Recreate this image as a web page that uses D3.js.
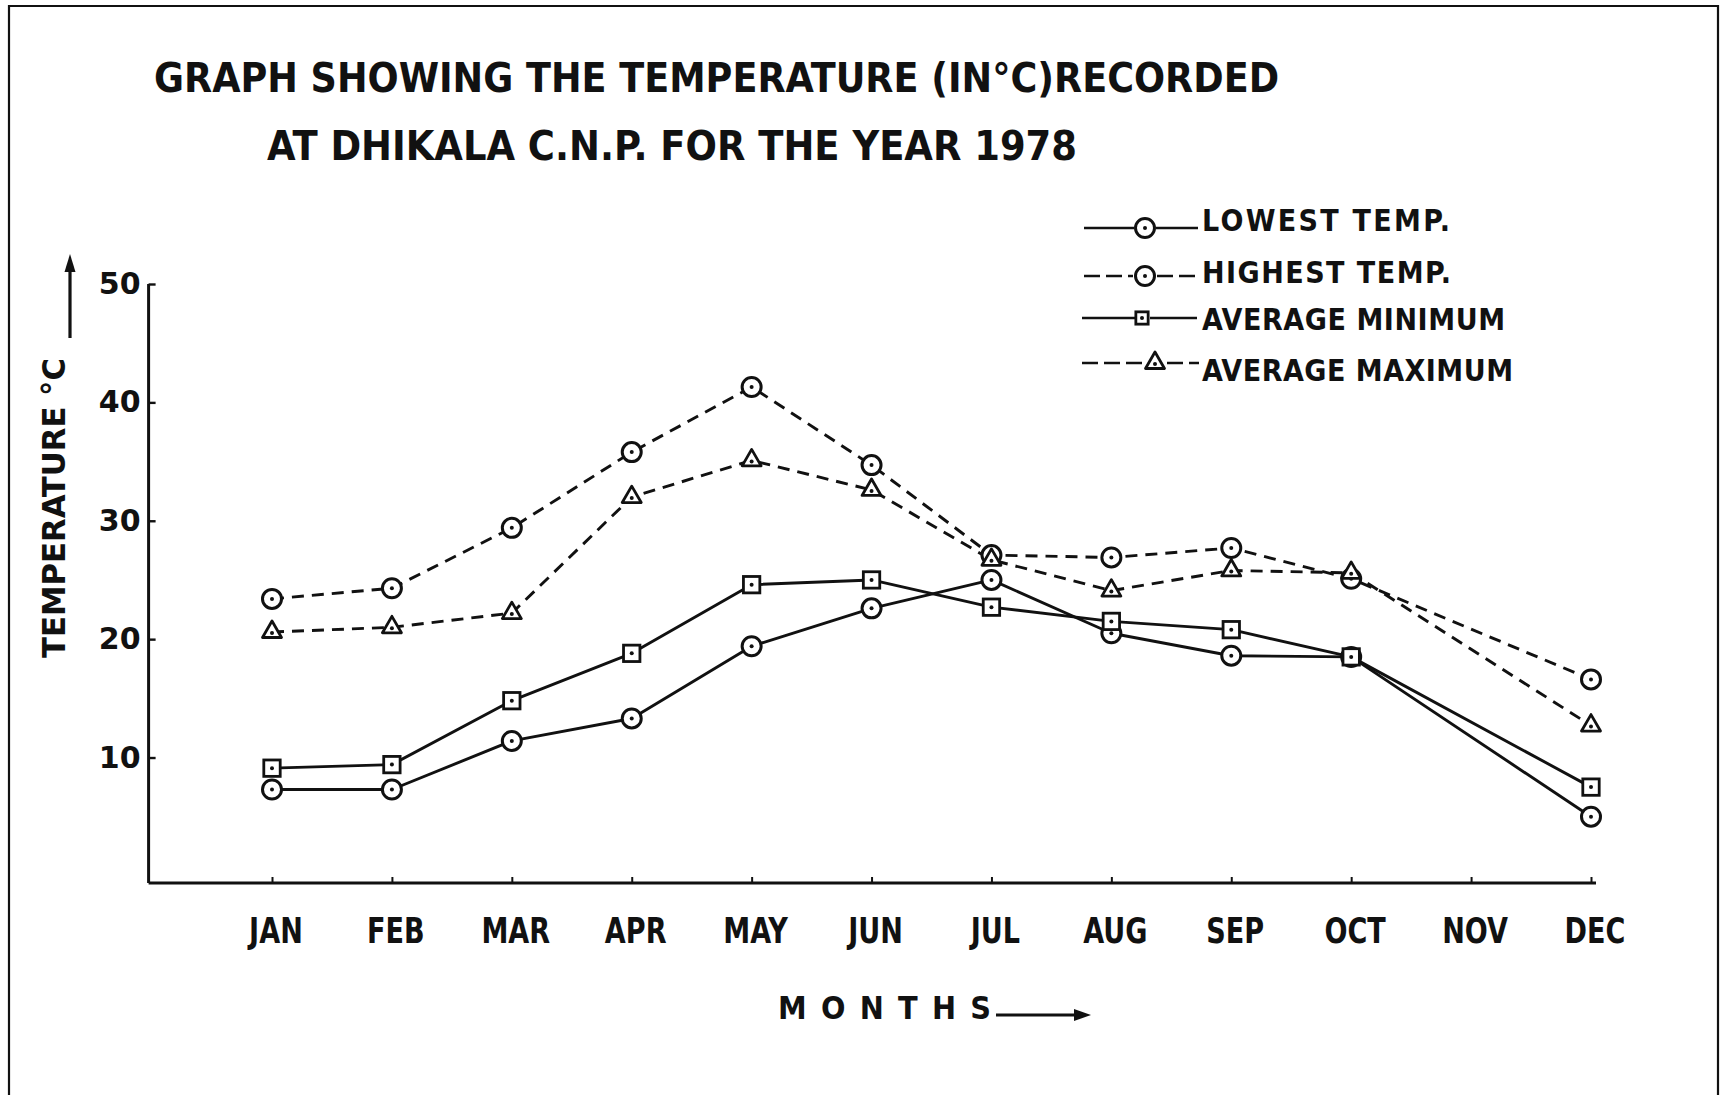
<!DOCTYPE html>
<html>
<head>
<meta charset="utf-8">
<script src="https://cdn.jsdelivr.net/npm/d3@7"></script>
<style>
html,body{margin:0;padding:0;background:#fff;}
svg{display:block;}
text{font-family:"DejaVu Sans Condensed","Liberation Sans Narrow","DejaVu Sans",sans-serif;font-weight:bold;fill:#111;}
</style>
</head>
<body>
<svg id="chart" width="1726" height="1095"></svg>
<script>
// ---------------- DATA ----------------
const months = ["JAN","FEB","MAR","APR","MAY","JUN","JUL","AUG","SEP","OCT","NOV","DEC"];
const lowestTemp     = [7.3, 7.3, 11.4, 13.3, 19.4, 22.6, 25.0, 20.5, 18.6, 18.5, null, 5.0];
const highestTemp    = [23.4, 24.3, 29.4, 35.8, 41.3, 34.7, 27.1, 26.9, 27.7, 25.1, null, 16.6];
const averageMinimum = [9.1, 9.4, 14.8, 18.8, 24.6, 25.0, 22.7, 21.5, 20.8, 18.5, null, 7.5];
const averageMaximum = [20.6, 21.0, 22.2, 32.0, 35.1, 32.6, 26.7, 24.1, 25.8, 25.6, null, 12.7];
const yTicks = [10, 20, 30, 40, 50];
const seriesNames = ["LOWEST  TEMP.", "HIGHEST  TEMP.", "AVERAGE MINIMUM", "AVERAGE MAXIMUM"];
const titleLines = ["GRAPH SHOWING THE TEMPERATURE (IN\u00B0C)RECORDED", "AT DHIKALA C.N.P. FOR THE YEAR 1978"];
const yLabel = "TEMPERATURE \u00B0C";
const xLabel = "M O N T H S";

// ---------------- LAYOUT ----------------
const svg = d3.select("#chart");
const ink = "#111";
const axisX0 = 148.6;   // y-axis position
const x = d3.scalePoint().domain(months).range([272, 1591]);
const y = d3.scaleLinear().domain([-0.6, 50]).range([883, 284]);

// frame
const frame = svg.append("g").attr("fill","none").attr("stroke",ink).attr("stroke-width",2.2);
frame.append("path").attr("d","M9,1095 L9,6 L1718,6 L1718,1095");

// title
const titleSpec = [{x:154, y:92, len:1125},{x:267, y:160, len:810}];
svg.append("g").selectAll("text").data(titleLines).join("text")
  .attr("x",(d,i)=>titleSpec[i].x).attr("y",(d,i)=>titleSpec[i].y)
  .attr("font-size",40)
  .attr("textLength",(d,i)=>titleSpec[i].len).attr("lengthAdjust","spacingAndGlyphs")
  .text(d=>d);

// axes
const xAxis = d3.axisBottom(x).tickSizeInner(-6).tickSizeOuter(0).tickPadding(0);
const gx = svg.append("g").attr("transform",`translate(0,${y(-0.6)})`).call(xAxis);
gx.select(".domain").remove();
gx.selectAll(".tick line").attr("stroke",ink).attr("stroke-width",2);
gx.selectAll(".tick text").attr("y",60).attr("dy",0).attr("x",4)
  .attr("font-size",35).attr("fill",ink)
  .attr("transform","scale(0.86,1)")
  .style("font-family",'"DejaVu Sans Condensed","Liberation Sans Narrow","DejaVu Sans",sans-serif')
  .style("font-weight","bold");
svg.append("line").attr("x1",axisX0).attr("x2",x("DEC")+5)
  .attr("y1",y(-0.6)).attr("y2",y(-0.6)).attr("stroke",ink).attr("stroke-width",3);

const yAxis = d3.axisLeft(y).tickValues(yTicks).tickSizeInner(-7).tickSizeOuter(0).tickPadding(8);
const gy = svg.append("g").attr("transform",`translate(${axisX0},0)`).call(yAxis);
gy.select(".domain").remove();
gy.selectAll(".tick line").attr("stroke",ink).attr("stroke-width",2.4);
gy.selectAll(".tick text").attr("font-size",30).attr("fill",ink)
  .style("font-family",'"DejaVu Sans","Liberation Sans",sans-serif').style("font-weight","bold");
svg.append("line").attr("x1",axisX0).attr("x2",axisX0)
  .attr("y1",y(-0.6)).attr("y2",y(50)).attr("stroke",ink).attr("stroke-width",3);

// y-axis title + arrow
svg.append("text").attr("transform","translate(65,508) rotate(-90)")
  .attr("text-anchor","middle").attr("font-size",32)
  .attr("textLength",300).attr("lengthAdjust","spacingAndGlyphs")
  .text(yLabel);
svg.append("line").attr("x1",70).attr("x2",70).attr("y1",338).attr("y2",268)
  .attr("stroke",ink).attr("stroke-width",3.2);
svg.append("path").attr("d","M70,254 L64.5,272 L75.5,272 Z").attr("fill",ink);

// x-axis title + arrow
svg.append("text").attr("x",778).attr("y",1019).attr("font-size",32)
  .attr("textLength",213).attr("lengthAdjust","spacing")
  .text(xLabel);
svg.append("line").attr("x1",996).attr("x2",1078).attr("y1",1015).attr("y2",1015)
  .attr("stroke",ink).attr("stroke-width",3);
svg.append("path").attr("d","M1091,1015 L1074,1009 L1074,1021 Z").attr("fill",ink);

// ---------------- SERIES ----------------
const series = [
  {name:seriesNames[0], values:lowestTemp,     dash:null,   marker:"circle"},
  {name:seriesNames[1], values:highestTemp,    dash:"12,8", marker:"circle"},
  {name:seriesNames[2], values:averageMinimum, dash:null,   marker:"square"},
  {name:seriesNames[3], values:averageMaximum, dash:"12,8", marker:"triangle"}
];
series.forEach(s=>{
  s.points = months.map((m,i)=>({m, v:s.values[i]})).filter(p=>p.v!==null);
});

const line = d3.line().x(p=>x(p.m)).y(p=>y(p.v));
svg.append("g").selectAll("path").data(series).join("path")
  .attr("d",s=>line(s.points))
  .attr("fill","none").attr("stroke",ink).attr("stroke-width",2.9)
  .attr("stroke-dasharray",s=>s.dash)
  .attr("stroke-linejoin","round");

function drawMarker(g, type, cx, cy, sz){
  if(type==="circle"){
    g.append("circle").attr("cx",cx).attr("cy",cy).attr("r",9.5*sz)
      .attr("fill","#fff").attr("stroke",ink).attr("stroke-width",3);
  } else if(type==="square"){
    const h = 8.2*sz;
    g.append("rect").attr("x",cx-h).attr("y",cy-h).attr("width",2*h).attr("height",2*h)
      .attr("fill","#fff").attr("stroke",ink).attr("stroke-width",2.8);
  } else {
    const s = 19*sz, hh = s*Math.sqrt(3)/2;
    g.append("path")
      .attr("d",`M${cx},${cy-hh*2/3} L${cx+s/2},${cy+hh/3} L${cx-s/2},${cy+hh/3} Z`)
      .attr("fill","#fff").attr("stroke",ink).attr("stroke-width",2.8).attr("stroke-linejoin","round");
  }
  g.append("circle").attr("cx",cx).attr("cy",type==="triangle"?cy+1:cy).attr("r",2).attr("fill",ink);
}

const mg = svg.append("g");
series.forEach(s=>{
  s.points.forEach(p=>drawMarker(mg, s.marker, x(p.m), y(p.v), 1));
});

// ---------------- LEGEND ----------------
const legendRows = [
  {lineY:228, textY:231, markerX:1145, segs:[[1084,1134],[1156,1198]], len:248},
  {lineY:276, textY:283, markerX:1145, segs:[[1084,1133],[1157,1200]], len:249},
  {lineY:318, textY:330, markerX:1142, segs:[[1082,1135],[1150,1197]], len:303},
  {lineY:363, textY:381, markerX:1155, segs:[[1082,1143],[1167,1199]], len:311}
];
const lg = svg.append("g");
series.forEach((s,i)=>{
  const r = legendRows[i];
  r.segs.forEach(seg=>{
    lg.append("line").attr("x1",seg[0]).attr("x2",seg[1]).attr("y1",r.lineY).attr("y2",r.lineY)
      .attr("stroke",ink).attr("stroke-width",2.6)
      .attr("stroke-dasharray",s.dash?"16,6":null);
  });
  drawMarker(lg, s.marker, r.markerX, r.lineY, s.marker==="square"?0.75:1);
  lg.append("text").attr("x",1202).attr("y",r.textY).attr("font-size",30)
    .attr("textLength",r.len).attr("lengthAdjust","spacing")
    .text(s.name);
});
</script>
</body>
</html>
